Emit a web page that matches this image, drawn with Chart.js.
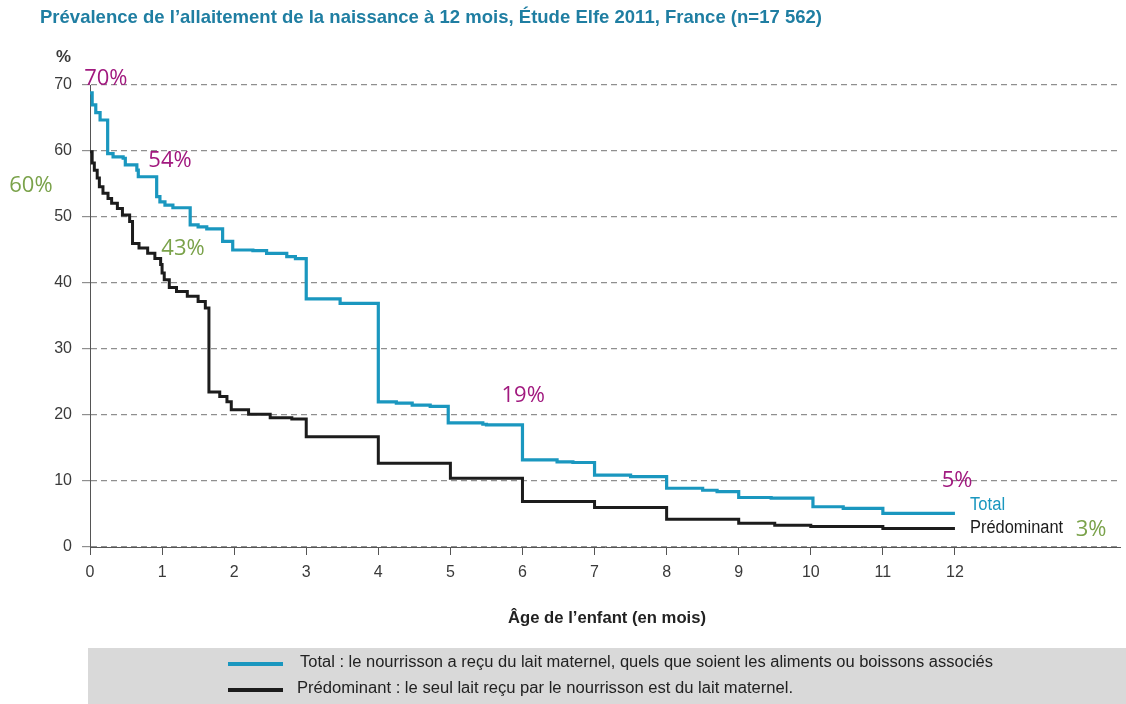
<!DOCTYPE html>
<html>
<head>
<meta charset="utf-8">
<script src="https://cdn.jsdelivr.net/npm/chart.js@4/dist/chart.umd.min.js"></script>
<style>
  html, body { margin: 0; padding: 0; background: #fff; }
  canvas { display: block; }
</style>
</head>
<body>
<canvas id="chart" width="1126" height="704"></canvas>
<script>
// couleurs
const blueColor = '#1a97bf'
const blackColor = '#1c1c1c'
const purpleColor = '#a1197f'
const greenColor = '#7aa24a'
const titleColor = '#1f7ea2'
const arial = '"Liberation Sans", Arial, sans-serif'

// données (mois, %)
const totalMonths = [0, 0.03, 0.08, 0.14, 0.245, 0.32, 0.46, 0.49, 0.65, 0.67, 0.925, 0.97, 1.04, 1.15, 1.39, 1.5, 1.62, 1.84, 1.98, 2.26, 2.45, 2.73, 2.85, 3.0, 3.47, 4.0, 4.25, 4.47, 4.72, 4.97, 5.45, 5.5, 6.0, 6.48, 6.7, 7.0, 7.5, 8.0, 8.5, 8.7, 9.0, 9.45, 10.03, 10.45, 11.0, 12]
const totalValues = [68.8, 67.0, 65.8, 64.7, 59.6, 59.1, 58.9, 57.9, 57.1, 56.1, 53.1, 52.3, 51.8, 51.4, 48.8, 48.5, 48.2, 46.3, 45.0, 44.9, 44.5, 44.0, 43.7, 37.6, 36.9, 22.0, 21.8, 21.5, 21.3, 18.8, 18.6, 18.5, 13.2, 12.9, 12.8, 10.9, 10.65, 8.9, 8.6, 8.4, 7.5, 7.4, 6.1, 5.85, 5.1, 5.1]

const predoMonths = [0, 0.03, 0.06, 0.1, 0.13, 0.18, 0.25, 0.3, 0.38, 0.45, 0.55, 0.59, 0.68, 0.8, 0.9, 0.98, 1.0, 1.03, 1.1, 1.2, 1.35, 1.5, 1.6, 1.65, 1.8, 1.9, 1.96, 2.2, 2.5, 2.8, 3.0, 4.0, 5.0, 6.0, 7.0, 8.0, 9.0, 9.5, 10.0, 11.0, 12]
const predoValues = [59.9, 58.2, 57.1, 55.9, 54.6, 53.6, 52.8, 52.1, 51.3, 50.3, 49.3, 46.0, 45.3, 44.5, 43.7, 42.8, 41.5, 40.5, 39.3, 38.7, 38.0, 37.2, 36.2, 23.5, 22.8, 22.0, 20.8, 20.1, 19.6, 19.4, 16.7, 12.7, 10.4, 6.9, 6.0, 4.2, 3.6, 3.3, 3.1, 2.8, 2.8]

const monthTicks = [0, 1, 2, 3, 4, 5, 6, 7, 8, 9, 10, 11, 12]
const percentTicks = [0, 10, 20, 30, 40, 50, 60, 70]

// étiquettes posées sur le graphique (texte, mois, %, couleur)
const noteTexts = ['70%', '54%', '60%', '43%', '19%', '5%', '3%']
const noteMonths = [0.22, 1.11, -0.82, 1.29, 6.01, 12.03, 13.89]
const notePercents = [71.0, 58.6, 54.8, 45.2, 22.9, 10.0, 2.6]
const noteColors = [purpleColor, purpleColor, greenColor, greenColor, purpleColor, purpleColor, greenColor]

const seriesNames = ['Total', 'Prédominant']
const legendTexts = [
  'Total : le nourrisson a reçu du lait maternel, quels que soient les aliments ou boissons associés',
  'Prédominant : le seul lait reçu par le nourrisson est du lait maternel.'
]

function toPoints(xs, ys) {
  return xs.map((x, i) => ({ x: x, y: ys[i] }))
}

// texte étroit façon Arial Narrow : on comprime horizontalement pour tenir la largeur voulue
function narrowText(ctx, text, x, y, width, font, color, align) {
  ctx.save()
  ctx.font = font
  ctx.fillStyle = color
  ctx.textAlign = 'left'
  ctx.textBaseline = 'middle'
  var w = ctx.measureText(text).width
  var k = width / w
  var left = align === 'center' ? x - width / 2 : x
  ctx.translate(left, y)
  ctx.scale(k, 1)
  ctx.fillText(text, 0, 0)
  ctx.restore()
}

// textes, cartouche de légende
const decor = {
  id: 'decor',
  beforeDraw(chart) {
    const ctx = chart.ctx
    ctx.save()
    ctx.fillStyle = '#d9d9d9'
    ctx.fillRect(88, 648, 1126 - 88, 56)
    ctx.restore()
  },
  afterDraw(chart) {
    const ctx = chart.ctx
    const xs = chart.scales.x
    const ys = chart.scales.y

    // titre
    narrowText(ctx, 'Prévalence de l\u2019allaitement de la naissance à 12 mois, Étude Elfe 2011, France (n=17 562)',
      40, 18, 782, 'bold 19px ' + arial, titleColor, 'left')

    // unité
    narrowText(ctx, '%', 56, 58, 15, 'bold 16px ' + arial, '#3a3a3a', 'left')

    // titre de l'axe x
    narrowText(ctx, 'Âge de l\u2019enfant (en mois)', 607, 618, 198, 'bold 17px ' + arial, '#222', 'center')

    // légende
    const legendColors = [blueColor, blackColor]
    const legendY = [664, 690]
    const legendLeft = [300, 297]
    const legendWidth = [693, 496]
    legendTexts.forEach((t, i) => {
      ctx.save()
      ctx.strokeStyle = legendColors[i]
      ctx.lineWidth = 4
      ctx.beginPath()
      ctx.moveTo(228, legendY[i])
      ctx.lineTo(283, legendY[i])
      ctx.stroke()
      ctx.restore()
      narrowText(ctx, t, legendLeft[i], legendY[i] - 1, legendWidth[i], '16px ' + arial, '#222', 'left')
    })

    // valeurs remarquables
    ctx.save()
    ctx.textBaseline = 'middle'
    ctx.font = '22px "Open Sans", sans-serif'
    ctx.textAlign = 'center'
    noteTexts.forEach((t, i) => {
      ctx.fillStyle = noteColors[i]
      ctx.fillText(t, xs.getPixelForValue(noteMonths[i]), ys.getPixelForValue(notePercents[i]))
    })
    ctx.restore()

    // noms des séries au bout des courbes
    narrowText(ctx, seriesNames[0], xs.getPixelForValue(12.21), ys.getPixelForValue(6.4), 35, '18px ' + arial, blueColor, 'left')
    narrowText(ctx, seriesNames[1], xs.getPixelForValue(12.21), ys.getPixelForValue(2.9), 93, '18px ' + arial, blackColor, 'left')
  }
}

const ctx = document.getElementById('chart')

new Chart(ctx, {
  type: 'line',
  data: {
    datasets: [
      {
        label: seriesNames[0],
        data: toPoints(totalMonths, totalValues),
        borderColor: blueColor,
        borderWidth: 3.2,
        pointRadius: 0,
        stepped: true,
        fill: false
      },
      {
        label: seriesNames[1],
        data: toPoints(predoMonths, predoValues),
        borderColor: blackColor,
        borderWidth: 3,
        pointRadius: 0,
        stepped: true,
        fill: false
      }
    ]
  },
  options: {
    responsive: false,
    animation: false,
    devicePixelRatio: 1,
    layout: { padding: { top: 85, right: 6, left: 0, bottom: 0 } },
    plugins: {
      legend: { display: false },
      tooltip: { enabled: false },
      title: { display: false }
    },
    scales: {
      x: {
        type: 'linear',
        min: 0,
        max: 14.29,
        afterBuildTicks: (scale) => { scale.ticks = monthTicks.map(v => ({ value: v })) },
        afterFit: (scale) => { scale.height = 157 },
        grid: { drawOnChartArea: false, drawTicks: true, tickLength: 8, color: '#555' },
        border: { color: '#555', width: 1 },
        ticks: { padding: 8, color: '#3a3a3a', font: { family: arial, size: 16 }, maxRotation: 0 }
      },
      y: {
        min: 0,
        max: 70,
        afterBuildTicks: (scale) => { scale.ticks = percentTicks.map(v => ({ value: v })) },
        afterFit: (scale) => { scale.width = 90 },
        grid: { color: '#8f8f8f', tickLength: 8, lineWidth: 1.2 },
        border: { color: '#555', width: 1, dash: [6, 4] },
        ticks: { padding: 10, color: '#3a3a3a', font: { family: arial, size: 16 } }
      }
    }
  },
  plugins: [decor]
})
</script>
</body>
</html>
